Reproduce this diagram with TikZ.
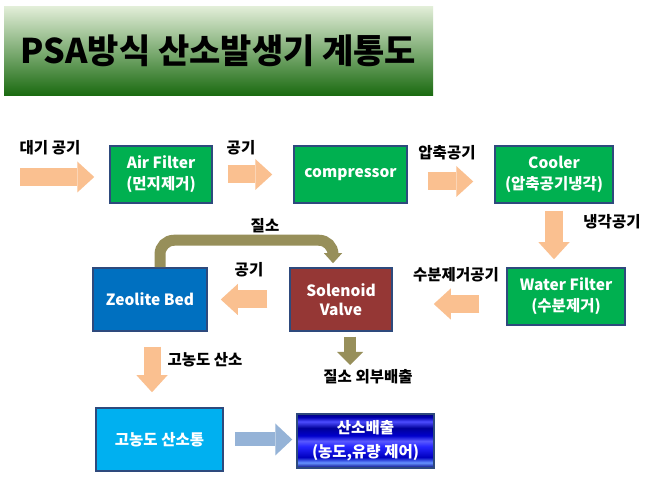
\documentclass[tikz,border=0pt]{standalone}
\usepackage{fontspec}
\setmainfont{Noto Sans CJK KR}
\usetikzlibrary{arrows.meta}
\definecolor{boxgreen}{HTML}{00B050}
\definecolor{boxline}{HTML}{2E4A7D}
\definecolor{valvered}{HTML}{953735}
\definecolor{zeoblue}{HTML}{0070C0}
\definecolor{tankcyan}{HTML}{00B0F0}
\definecolor{airpeach}{HTML}{FAC090}
\definecolor{nitrogen}{HTML}{978F5A}
\definecolor{steel}{HTML}{95B3D7}
\definecolor{bannertop}{HTML}{E2EED8}
\definecolor{bannerbot}{HTML}{1A6A10}
\pgfdeclareverticalshading{metalblue}{100bp}{color(0bp)=(blue!50!black); color(25bp)=(blue!50!black);
  color(30bp)=(blue!70!cyan!60); color(35bp)=(blue!75!black); color(45bp)=(blue!85!white);
  color(50bp)=(blue!65!white); color(55bp)=(blue!80!black); color(62bp)=(blue!60!black);
  color(68bp)=(blue!70!white); color(72bp)=(blue!70!black); color(75bp)=(blue!50!black); color(100bp)=(blue!50!black)}
\begin{document}
\begin{tikzpicture}[x=1pt,y=-1pt,
  box/.style={draw=boxline, line width=1.5pt, text=white, align=center, font=\bfseries\fontsize{15.5}{21}\selectfont},
  greenbox/.style={box, fill=boxgreen, minimum height=57pt},
  lbl/.style={font=\bfseries\fontsize{15.5}{17}\selectfont},
  flow/.style={draw=airpeach, line width=18pt, -{Triangle[length=17pt,width=31pt,line width=0pt]}},
  nitro/.style={draw=nitrogen, line width=11pt, -{Triangle[length=10pt,width=18pt,line width=0pt]}}]
\path[use as bounding box, fill=white] (0,0) rectangle (649,481);
\node[top color=bannertop, bottom color=bannerbot, minimum width=429pt, minimum height=89pt,
  font=\bfseries\fontsize{34}{40}\selectfont] (title) at (218.5,51) {PSA방식 산소발생기 계통도};
\node[greenbox, minimum width=102pt] (airf) at (161,174.5) {Air Filter\\(먼지제거)};
\node[greenbox, minimum width=113pt] (comp) at (350.5,174.5) {compressor};
\node[greenbox, minimum width=118pt] (cool) at (554,174.5) {Cooler\\(압축공기냉각)};
\node[greenbox, minimum width=118pt] (wfil) at (566,296.5) {Water Filter\\(수분제거)};
\node[box, fill=valvered, minimum width=102pt, minimum height=63pt, font=\bfseries\fontsize{15.5}{19}\selectfont] (valve) at (341,299.5) {Solenoid\\Valve};
\node[box, fill=zeoblue, minimum width=114pt, minimum height=63pt] (zeo) at (150,299.5) {Zeolite Bed};
\node[box, fill=tankcyan, minimum width=127pt, minimum height=63pt] (tank) at (159.5,439.5) {고농도 산소통};
\node[box, shade, shading=metalblue, minimum width=137pt, minimum height=54pt, font=\bfseries\fontsize{15.5}{24}\selectfont] (out) at (365.5,441) {산소배출\\(농도,유량 제어)};
\node[lbl] (l1) at (50,148) {대기 공기};
\node[lbl] (l2) at (241,148) {공기};
\node[lbl] (l3) at (447,153) {압축공기};
\node[lbl] (l4) at (612,222) {냉각공기};
\node[lbl] (l5) at (456,275) {수분제거공기};
\node[lbl] (l6) at (249,270) {공기};
\node[lbl] (l7) at (265,226) {질소};
\node[lbl] (l8) at (205,360) {고농도 산소};
\node[lbl] (l9) at (368,377) {질소 외부배출};
\coordinate (inlet) at (20,177);
\coordinate (vent) at (350,365);
\draw[flow, shorten >=15pt] (inlet) -- (airf.west |- inlet);
\draw[flow, shorten <=15pt, shorten >=21pt] (airf) -- (comp);
\draw[flow, shorten <=20pt, shorten >=21pt] ([yshift=-7pt]comp.east) -- ([yshift=-7pt]cool.west);
\draw[flow, shorten <=7pt, shorten >=8pt] (cool.south) -- (cool.south |- wfil.north);
\draw[flow, shorten <=27pt, shorten >=41pt] ([yshift=-7.5pt]wfil.west) -- ([yshift=-7.5pt]wfil.west -| valve.east);
\draw[flow, shorten <=22pt, shorten >=13pt] (valve) -- (zeo);
\draw[flow, line width=17pt, shorten <=15pt, shorten >=15pt] ([xshift=2pt]zeo.south) -- ([xshift=2pt]zeo.south |- tank.north);
\draw[flow, draw=steel, line width=14pt, -{Triangle[length=17pt,width=32pt,line width=0pt]}, shorten <=11pt, shorten >=4pt] (tank.east) -- (tank.east -| out.west);
\draw[nitro, rounded corners=14pt, shorten >=4pt] ([xshift=10pt]zeo.north) -- ++(0,-27) -| ([xshift=-8pt]valve.north);
\draw[nitro, line width=12pt, -{Triangle[length=13pt,width=26pt,line width=0pt]}, shorten <=5pt] (valve.south -| vent) -- (vent);
\end{tikzpicture}
\end{document}
